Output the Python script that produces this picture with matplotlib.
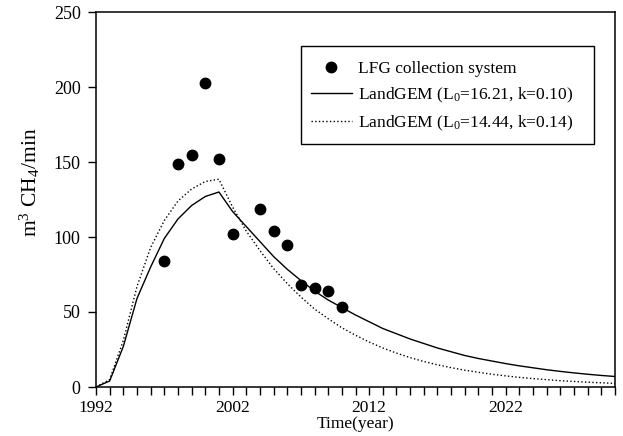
import matplotlib.pyplot as plt
from matplotlib.patches import Rectangle
import numpy as np

plt.rcParams['font.family'] = ['Liberation Serif', 'DejaVu Serif']
plt.rcParams['mathtext.fontset'] = 'custom'
plt.rcParams['mathtext.rm'] = 'Liberation Serif'
plt.rcParams['mathtext.it'] = 'Liberation Serif:italic'

# measured LFG collection
obs_years = [1997, 1998, 1999, 2000, 2001, 2002, 2004, 2005, 2006, 2007, 2008, 2009, 2010]
obs_flow = [84, 149, 155, 203, 152, 102, 118.5, 104, 95, 68, 66, 64, 53.3]

# LandGEM model curves (yearly)
model_years = list(range(1992, 2031))
gem_a = [0, 4, 27, 59, 80, 99, 112, 121, 127, 130,
         117, 107, 97, 87, 78.5, 71, 64, 58, 53, 48,
         43.5, 39, 35.5, 32, 29, 26, 23.5, 21, 19, 17.3,
         15.6, 14.1, 12.8, 11.5, 10.4, 9.4, 8.5, 7.7, 7]
gem_b = [0, 5, 31, 67, 93, 111, 124, 132, 137, 138.5,
         120, 104, 91, 79, 69, 60, 52, 45.5, 39.5, 34.5,
         30, 26, 22.6, 19.6, 17, 14.8, 12.9, 11.2, 9.8, 8.5,
         7.4, 6.4, 5.6, 4.9, 4.2, 3.7, 3.2, 2.8, 2.4]

labels = ['LFG collection system',
          r'LandGEM (L$_\mathregular{0}$=16.21, k=0.10)',
          r'LandGEM (L$_\mathregular{0}$=14.44, k=0.14)']

fig = plt.figure(figsize=(6.23, 4.36), dpi=100)
ax = fig.add_axes([96/623, 1-387/436, 519/623, 375/436])

ax.plot(obs_years, obs_flow, 'o', color='black', ms=7.5, label=labels[0])
ax.plot(model_years, gem_a, '-', color='black', lw=1.0, label=labels[1])
ax.plot(model_years, gem_b, ':', color='black', lw=1.0, label=labels[2])

ax.set_xlim(1992, 2030)
ax.set_ylim(0, 250)
ax.set_xticks([1992, 2002, 2012, 2022])
ax.set_xticks(np.arange(1992, 2031), minor=True)
ax.set_yticks(np.arange(0, 251, 50))
ax.tick_params(axis='both', direction='out', length=6, width=1, labelsize=13,
               top=False, right=False)
ax.tick_params(axis='x', which='minor', direction='out', length=6, width=1)
ax.tick_params(axis='x', labelsize=12.5, pad=3)
ax.tick_params(axis='y', pad=5)
for s in ax.spines.values():
    s.set_linewidth(1.1)

ax.set_xlabel('Time(year)', fontsize=12.5, labelpad=0)
ax.set_ylabel(r'm$^\mathregular{3}$ CH$_\mathregular{4}$/min', fontsize=15.5)
ax.yaxis.set_label_coords(-0.105, 0.545)

leg = ax.legend(frameon=False, loc='upper left', bbox_to_anchor=(0.414, 0.87),
                fontsize=12.5, handlelength=2.35, handletextpad=0.35,
                labelspacing=0.5, borderpad=0, borderaxespad=0)
ax.add_patch(Rectangle((0.395, 0.648), 0.565, 0.261, transform=ax.transAxes,
                       fill=False, edgecolor='black', lw=1.0))

fig.savefig('out.png', dpi=100)
